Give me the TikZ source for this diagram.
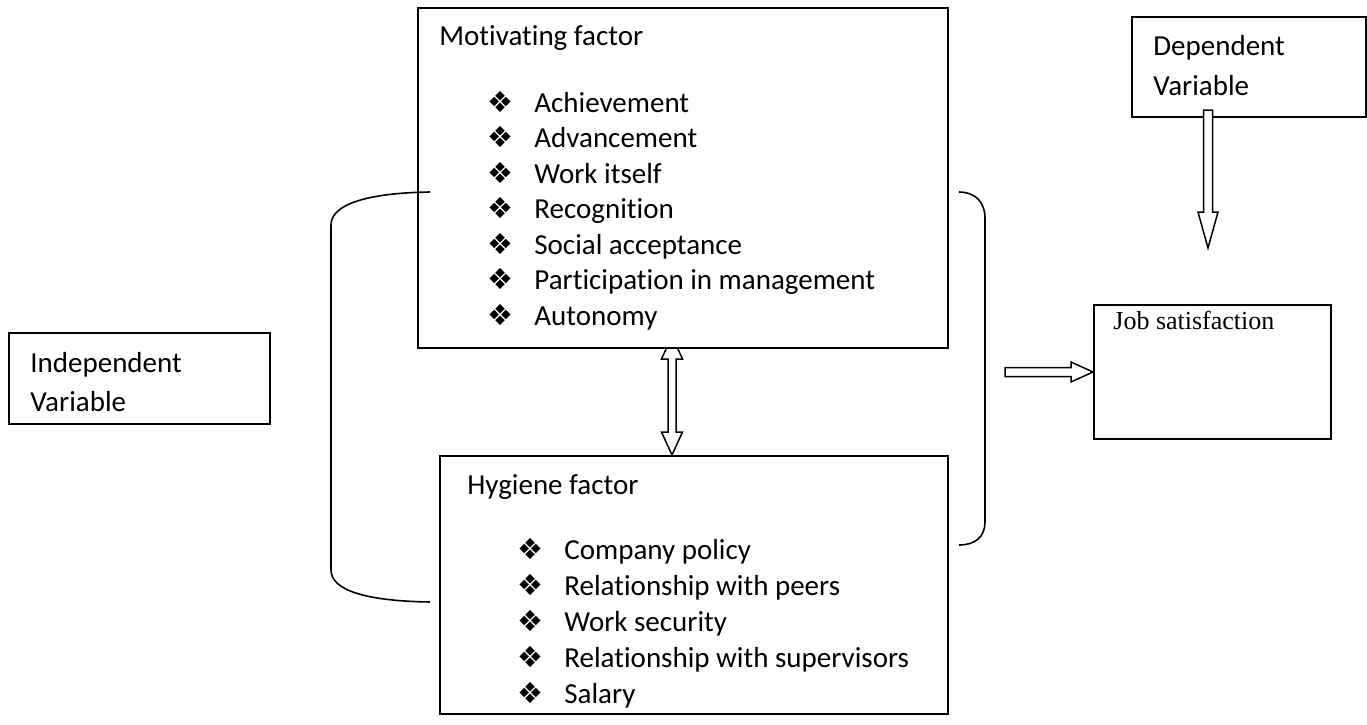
\documentclass[tikz,border=0pt]{standalone}
\usepackage{fontspec}
\setmainfont{Carlito}[Ligatures=NoCommon]
\newfontfamily\jobfont{Liberation Serif}
\newfontfamily\bulfont{DejaVu Sans}
\usetikzlibrary{calc}
\pgfdeclarelayer{bg}
\pgfsetlayers{bg,main}
\newcommand{\factoritem}[1]{\makebox[23.5pt][l]{\bulfont\fontsize{14.5}{14.5}\selectfont ❖}#1}

\begin{document}
\begin{tikzpicture}[x=0.5pt,y=-0.5pt,
  box/.style={draw, line width=1pt, anchor=north west},
  hollow/.style={draw, fill=white, line width=0.75pt},
  brace/.style={draw, line width=0.8pt}]
\tikzstyle{every node}+=[inner sep=0pt, font=\fontsize{14.5}{17.4}\selectfont]
\useasboundingbox (0,0) rectangle (1367,724);
% boxes
\node [box, minimum width=254pt, minimum height=129pt] (hyg) at (439,455) {};
\node [box, fill=white, minimum width=265pt, minimum height=170pt] (mot) at (417,7) {};
\node [box, minimum width=130.5pt, minimum height=45.5pt] (indep) at (8,332) {};
\node [box, minimum width=117pt, minimum height=50pt] (dep) at (1131,16) {};
\node [box, minimum width=118.5pt, minimum height=67pt] (job) at (1093,304) {};
% motivating factor
\node [anchor=base west] (mhead) at (439,45) {Motivating factor};
\node [anchor=base west] (m1) at (487,112) {\factoritem{Achievement}};
\node [anchor=base west] (m2) at (487,147.5) {\factoritem{Advancement}};
\node [anchor=base west] (m3) at (487,183) {\factoritem{Work itself}};
\node [anchor=base west] (m4) at (487,218.5) {\factoritem{Recognition}};
\node [anchor=base west] (m5) at (487,254) {\factoritem{Social acceptance}};
\node [anchor=base west] (m6) at (487,289.5) {\factoritem{Participation in management}};
\node [anchor=base west] (m7) at (487,325) {\factoritem{Autonomy}};
% hygiene factor
\node [anchor=base west] (hhead) at (467,494) {Hygiene factor};
\node [anchor=base west] (h1) at (517,559) {\factoritem{Company policy}};
\node [anchor=base west] (h2) at (517,595) {\factoritem{Relationship with peers}};
\node [anchor=base west] (h3) at (517,631) {\factoritem{Work security}};
\node [anchor=base west] (h4) at (517,667) {\factoritem{Relationship with supervisors}};
\node [anchor=base west] (h5) at (517,703) {\factoritem{Salary}};
% variables
\node [anchor=base west] (ind1) at (30,372) {Independent};
\node [anchor=base west] (ind2) at (30,411) {Variable};
\node [anchor=base west] (dep1) at (1153,55) {Dependent};
\node [anchor=base west] (dep2) at (1153,95) {Variable};
\node [anchor=base west, font=\jobfont\fontsize{13}{15}\selectfont] (jobtxt) at (1113,329) {Job satisfaction};
% brackets
\draw [brace] (430,192) .. controls (365,193) and (331,205) .. (331,225) -- (331,570)
  .. controls (331,590) and (365,601) .. (430,602);
\draw [brace] (959,192) .. controls (975,192) and (985,202) .. (985,218) -- (985,522)
  .. controls (985,537) and (975,545) .. (959,545);
% arrows
\coordinate (lk) at (672,0);
\begin{pgfonlayer}{bg}
\draw [hollow] (lk |- hyg.north) -- ++(-10.5,-23) -- ++(6.5,0) -- ++(0,-73) -- ++(-6.5,0)
  -- ++(10.5,-23) -- ++(10.5,23) -- ++(-6.5,0) -- ++(0,73) -- ++(6.5,0) -- cycle;
\end{pgfonlayer}
\draw [hollow] (job.west) -- ++(-22,-10) -- ++(0,5.5) -- ++(-66,0) -- ++(0,9) -- ++(66,0)
  -- ++(0,5.5) -- cycle;
\coordinate (dtip) at (1208,248);
\draw [hollow] (dtip) -- ++(-10,-36) -- ++(5.5,0) -- ++(0,-102) -- ++(9,0) -- ++(0,102)
  -- ++(5.5,0) -- cycle;
\end{tikzpicture}
\end{document}
